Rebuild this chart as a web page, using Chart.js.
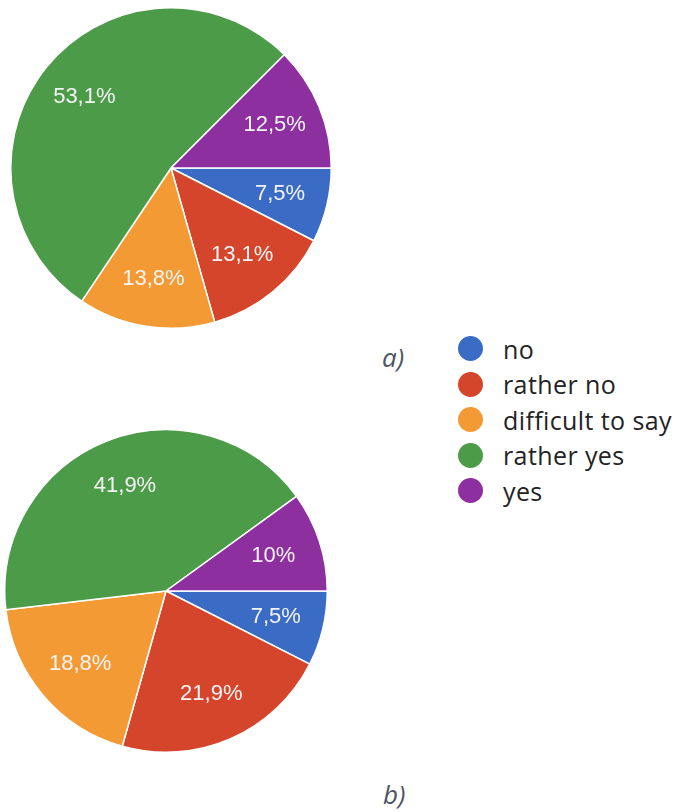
<!DOCTYPE html>
<html>
<head>
<meta charset="utf-8">
<script src="https://cdn.jsdelivr.net/npm/chart.js@4.4.0/dist/chart.umd.min.js"></script>
<style>
  body { margin: 0; background: #ffffff; }
  #page { position: relative; width: 678px; height: 812px; overflow: hidden; }
  .pie { position: absolute; }
  #pie-a { left: 10px; top: 7px; width: 322px; height: 322px; }
  #pie-b { left: 4px; top: 429px; width: 324px; height: 324px; }
  .tag {
    position: absolute; font-family: "Open Sans", sans-serif; font-style: italic;
    font-size: 26px; color: #4b5566; line-height: 1;
  }
  #legend { position: absolute; left: 458px; top: 331px; margin: 0; padding: 0; list-style: none; }
  #legend li {
    height: 35.5px; display: flex; align-items: center;
    font-family: "Open Sans", sans-serif; font-size: 25px; letter-spacing: 0.4px; color: #232323;
  }
  #legend .dot { width: 25px; height: 25px; border-radius: 50%; margin-right: 20px; }
</style>
</head>
<body>
<div id="page">
  <div class="pie" id="pie-a"><canvas id="chart-a"></canvas></div>
  <div class="pie" id="pie-b"><canvas id="chart-b"></canvas></div>
  <div class="tag" style="left:382px; top:344px;">a)</div>
  <div class="tag" style="left:383px; top:781px;">b)</div>
  <ul id="legend"></ul>
</div>
<script>
// Dati
const categorie = ["no", "rather no", "difficult to say", "rather yes", "yes"];
const valoriA = [7.5, 13.1, 13.8, 53.1, 12.5];
const valoriB = [7.5, 21.9, 18.8, 41.9, 10];
const colori = ["#3b6cc5", "#d4452b", "#f39a34", "#4c9b48", "#8e2f9f"];

// Etichette percentuali dentro le fette
const etichettePlugin = {
  id: "etichette",
  afterDatasetsDraw(chart) {
    const ctx = chart.ctx;
    const meta = chart.getDatasetMeta(0);
    const valori = chart.data.datasets[0].data;
    ctx.save();
    ctx.font = "22px 'Liberation Sans', Arial, sans-serif";
    ctx.fillStyle = "#f4f4f4";
    ctx.textAlign = "center";
    ctx.textBaseline = "middle";
    meta.data.forEach((arc, i) => {
      const p = arc.getProps(["x", "y", "startAngle", "endAngle", "outerRadius"], true);
      const a = (p.startAngle + p.endAngle) / 2;
      const r = p.outerRadius * 0.7;
      const testo = String(valori[i]).replace(".", ",") + "%";
      ctx.fillText(testo, p.x + Math.cos(a) * r, p.y + Math.sin(a) * r);
    });
    ctx.restore();
  },
};

function creaTorta(id, valori) {
  return new Chart(document.getElementById(id), {
    type: "pie",
    data: {
      labels: categorie,
      datasets: [
        {
          data: valori,
          backgroundColor: colori,
          borderColor: "#ffffff",
          borderWidth: 1.5,
        },
      ],
    },
    options: {
      responsive: true,
      maintainAspectRatio: false,
      animation: false,
      rotation: 90,
      layout: { padding: 0 },
      plugins: {
        legend: { display: false },
        tooltip: { enabled: false },
      },
    },
    plugins: [etichettePlugin],
  });
}

creaTorta("chart-a", valoriA);
creaTorta("chart-b", valoriB);

// Legenda condivisa
const legenda = document.getElementById("legend");
categorie.forEach((nome, i) => {
  const li = document.createElement("li");
  li.innerHTML = `<span class="dot" style="background:${colori[i]}"></span>${nome}`;
  legenda.appendChild(li);
});
</script>
</body>
</html>
